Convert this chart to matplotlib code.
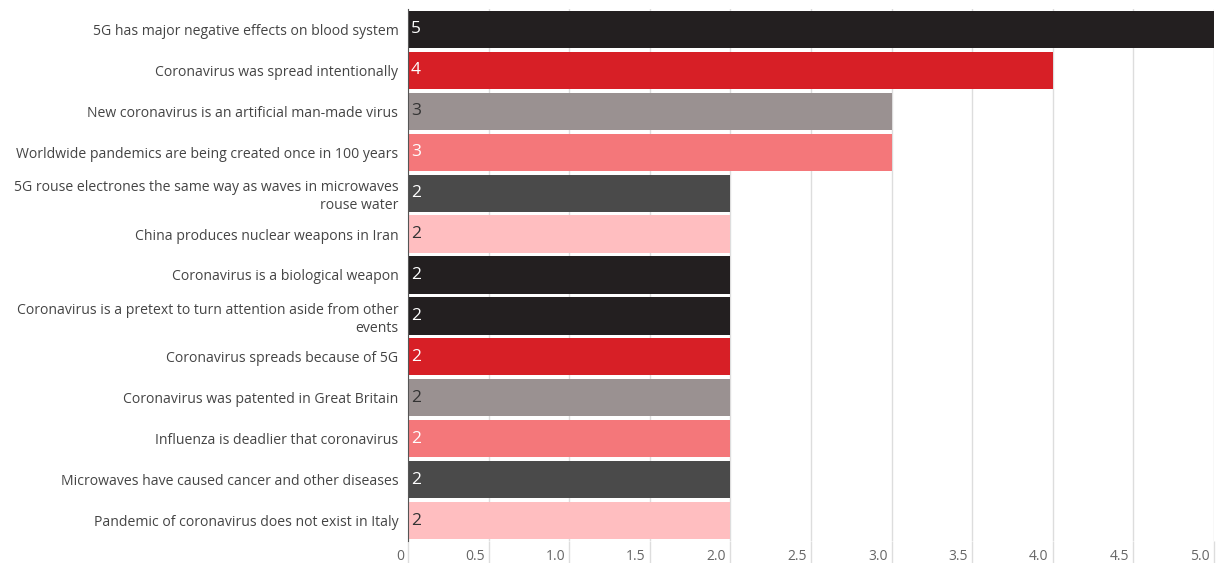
import matplotlib.pyplot as plt
from matplotlib.transforms import ScaledTranslation

# Conspiracy claims and their counts
claims = [
    '5G has major negative effects on blood system',
    'Coronavirus was spread intentionally',
    'New coronavirus is an artificial man-made virus',
    'Worldwide pandemics are being created once in 100 years',
    '5G rouse electrones the same way as waves in microwaves\nrouse water',
    'China produces nuclear weapons in Iran',
    'Coronavirus is a biological weapon',
    'Coronavirus is a pretext to turn attention aside from other\nevents',
    'Coronavirus spreads because of 5G',
    'Coronavirus was patented in Great Britain',
    'Influenza is deadlier that coronavirus',
    'Microwaves have caused cancer and other diseases',
    'Pandemic of coronavirus does not exist in Italy',
]
counts = [5, 4, 3, 3, 2, 2, 2, 2, 2, 2, 2, 2, 2]
bar_colors = ['#231f20', '#d71f26', '#9a9191', '#f4777a', '#4a4a4a', '#ffbec0',
              '#231f20', '#231f20', '#d71f26', '#9a9191', '#f4777a', '#4a4a4a', '#ffbec0']
label_colors = ['#ffffff', '#ffffff', '#333333', '#ffffff', '#ffffff', '#333333',
                '#ffffff', '#ffffff', '#ffffff', '#333333', '#ffffff', '#ffffff', '#333333']
xticks = [0, 0.5, 1.0, 1.5, 2.0, 2.5, 3.0, 3.5, 4.0, 4.5, 5.0]
xtick_labels = ['0', '0.5', '1.0', '1.5', '2.0', '2.5', '3.0', '3.5', '4.0', '4.5', '5.0']

plt.rcParams['font.family'] = ['Open Sans', 'DejaVu Sans']

W, H = 1216, 563
fig = plt.figure(figsize=(W / 100, H / 100), dpi=100)
ax = fig.add_axes([408 / W, 22 / H, (1214 - 408) / W, (554 - 22) / H])

pos = list(range(len(claims)))
ax.barh(pos, counts, height=0.91, color=bar_colors, zorder=2)
for y, v, c in zip(pos, counts, label_colors):
    ax.annotate(str(v), (0, y), xytext=(2, 0), textcoords='offset points',
                va='center', ha='left', fontsize=12.5, color=c, zorder=3)

ax.set_xlim(0, 5.0)
ax.set_ylim(len(claims) - 0.5, -0.5)
ax.set_yticks(pos)
ax.set_yticklabels(claims, fontsize=10.1, color='#444444', linespacing=1.25)
ax.tick_params(axis='y', length=0, pad=7)

ax.set_xticks(xticks)
ax.set_xticklabels(xtick_labels, fontsize=10, color='#666666')
ax.tick_params(axis='x', direction='out', length=22, width=1, color='#dddddd', pad=-16)
for lbl in ax.get_xticklabels():
    lbl.set_horizontalalignment('right')
    lbl.set_transform(lbl.get_transform() + ScaledTranslation(-3 / 72, 0, fig.dpi_scale_trans))
ax.get_xticklines()[0].set_color('#555555')

ax.grid(axis='x', color='#dddddd', linewidth=1, zorder=0)
for s in ['top', 'right', 'bottom']:
    ax.spines[s].set_visible(False)
ax.spines['left'].set_color('#555555')
ax.spines['left'].set_zorder(4)

fig.savefig('out.png', dpi=100)
